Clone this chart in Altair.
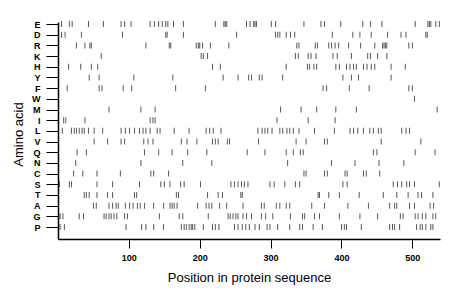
import altair as alt
import pandas as pd

# amino acids, top to bottom
aa_order = ["E", "D", "R", "K", "H", "Y", "F", "W", "M", "I",
            "L", "V", "Q", "N", "C", "S", "T", "A", "G", "P"]

E = [5, 16, 20, 43, 64, 89, 94, 103, 130, 136, 142, 147, 152, 155, 163, 177, 222, 234, 236, 238,
     266, 271, 276, 278, 280, 301, 307, 347, 371, 376, 399, 430, 441, 457, 504, 522, 524, 526, 533, 538]
D = [5, 10, 33, 91, 152, 154, 177, 252, 307, 310, 313, 322, 328, 334, 387, 416, 426, 442, 465, 484,
     491, 519, 521]
R = [26, 38, 45, 47, 124, 157, 159, 195, 198, 200, 204, 215, 241, 337, 340, 363, 366, 382, 386, 391,
     396, 410, 427, 447, 458, 460, 462, 464, 495, 500]
K = [61, 202, 205, 211, 335, 339, 353, 357, 364, 388, 394, 414, 437, 441, 451, 464]
H = [15, 32, 47, 56, 218, 229, 322, 352, 355, 361, 365, 392, 397, 407, 412, 417, 421, 431, 436, 442,
     447, 470, 490]
Y = [44, 58, 107, 162, 233, 254, 269, 273, 284, 288, 317, 402, 414, 424, 470]
F = [13, 58, 62, 92, 104, 166, 208, 374, 379, 411, 439, 495, 500]
W = [503]
M = [72, 117, 137, 314, 343, 365, 392, 421, 535]
I = [8, 11, 38, 130, 134, 137, 309, 353, 391]
L = [6, 19, 23, 26, 30, 34, 37, 43, 51, 63, 89, 95, 101, 108, 115, 120, 124, 130, 140, 144, 164, 185,
     209, 214, 219, 230, 282, 288, 292, 296, 302, 313, 317, 323, 327, 332, 340, 362, 390, 412, 417,
     423, 431, 440, 445, 452, 456, 485, 491, 496]
V = [51, 70, 89, 94, 121, 127, 134, 174, 182, 196, 218, 222, 226, 239, 242, 283, 336, 350, 376, 380,
     456, 512]
Q = [27, 40, 122, 142, 161, 183, 210, 267, 292, 322, 332, 342, 346, 445, 450, 504, 532]
N = [25, 117, 176, 217, 324, 386, 419, 453, 488]
C = [22, 35, 55, 88, 131, 135, 156, 347, 350, 376, 380, 405, 408, 431, 435, 454]
S = [2, 16, 19, 55, 77, 115, 145, 150, 158, 173, 178, 201, 244, 249, 254, 259, 263, 268, 299, 305,
     320, 335, 341, 402, 408, 473, 479, 485, 492, 496, 503, 538]
T = [37, 40, 44, 55, 70, 77, 108, 111, 167, 170, 211, 226, 232, 258, 260, 367, 369, 382, 397, 425,
     459, 478, 494, 508, 513, 529]
A = [50, 54, 72, 77, 82, 85, 95, 101, 106, 112, 116, 122, 135, 149, 158, 161, 164, 168, 197, 209,
     213, 217, 228, 238, 261, 287, 291, 308, 313, 322, 327, 358, 376, 409, 438, 468, 475, 478, 496,
     503, 525, 530]
G = [1, 3, 7, 30, 36, 65, 68, 72, 75, 79, 83, 94, 98, 143, 171, 176, 212, 240, 243, 247, 251, 254,
     261, 266, 273, 287, 293, 303, 328, 345, 348, 362, 369, 397, 426, 451, 483, 487, 504, 508, 514,
     519, 529, 533]
P = [3, 9, 96, 118, 124, 135, 149, 174, 178, 181, 185, 188, 190, 193, 205, 218, 222, 227, 249, 254,
     260, 265, 270, 278, 284, 295, 299, 310, 327, 341, 345, 360, 373, 400, 404, 407, 428, 468, 472,
     475, 482, 506, 511, 514, 519, 526, 529]

x_ticks = [100, 200, 300, 400, 500]

series = {"E": E, "D": D, "R": R, "K": K, "H": H, "Y": Y, "F": F, "W": W, "M": M, "I": I,
          "L": L, "V": V, "Q": Q, "N": N, "C": C, "S": S, "T": T, "A": A, "G": G, "P": P}

rows = []
n = len(aa_order)
for i, aa in enumerate(aa_order):
    for p in series[aa]:
        rows.append({"aa": aa, "idx": n - 1 - i, "pos": p})
df = pd.DataFrame(rows)

bottom_up = list(reversed(aa_order))
label_expr = "[" + ",".join("'%s'" % a for a in bottom_up) + "][datum.value]"

chart = alt.Chart(df).mark_tick(
    orient="vertical", size=6, thickness=1, color="#111"
).encode(
    x=alt.X("pos:Q",
            scale=alt.Scale(domain=[0, 539], nice=False, zero=False),
            axis=alt.Axis(values=x_ticks, title="Position in protein sequence",
                          grid=False, tickSize=9, labelPadding=5,
                          labelFont="Liberation Sans", labelFontSize=9, labelFontWeight="bold",
                          labelColor="#000", tickColor="#000", domainColor="#000",
                          domainWidth=1.5, tickWidth=1,
                          titleFont="Liberation Sans", titleFontSize=13,
                          titleFontWeight="normal", titleColor="#000", titleY=32)),
    y=alt.Y("idx:Q",
            scale=alt.Scale(domain=[-1.12, 19.19], nice=False, zero=False),
            axis=alt.Axis(values=list(range(n)), labelExpr=label_expr,
                          title="Amino acid", grid=False, tickSize=12, labelPadding=6,
                          labelFont="Liberation Sans", labelFontSize=9, labelFontWeight="bold",
                          labelColor="#000", tickColor="#000", domainColor="#000",
                          domainWidth=1.5, tickWidth=1,
                          titleFont="Liberation Sans", titleFontSize=13,
                          titleFontWeight="normal", titleColor="#000",
                          titleX=-33, titleY=112)),
).properties(
    width=382, height=217,
    autosize=alt.AutoSizeParams(type="none"),
    padding={"left": 50, "top": 14, "right": 10, "bottom": 58},
    background="white",
).configure_view(stroke=None)

chart.save("out.html", embed_options={"renderer": "svg", "actions": False})
